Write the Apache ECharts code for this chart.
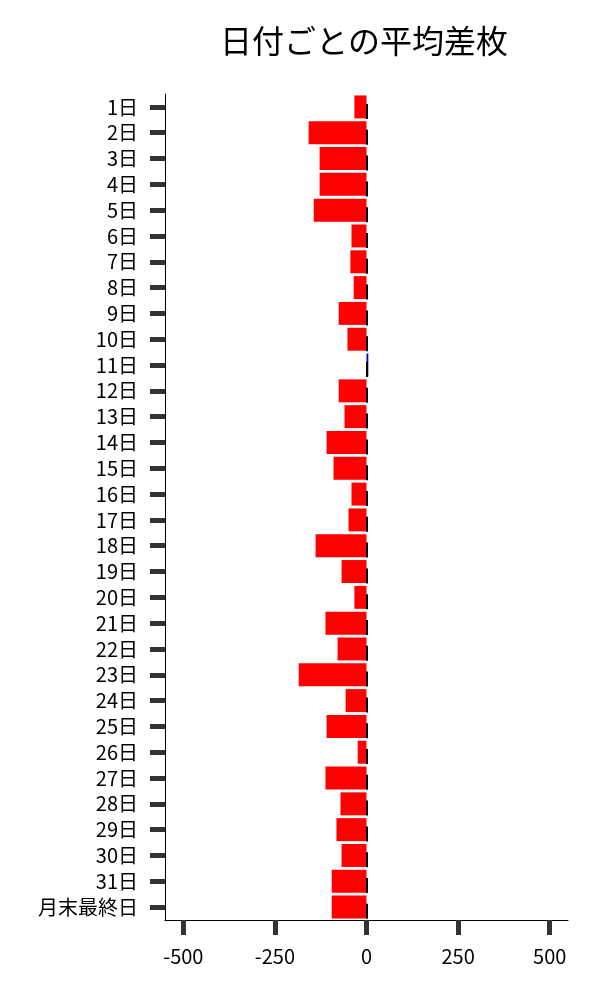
<!DOCTYPE html>
<html>
<head>
<meta charset="utf-8">
<script src="https://cdn.jsdelivr.net/npm/echarts@6/dist/echarts.min.js"></script>
<style>html,body{margin:0;padding:0;background:#fff}#c{width:600px;height:1000px}</style>
</head>
<body>
<div id="c"></div>
<script>
const categories = ['1日','2日','3日','4日','5日','6日','7日','8日','9日','10日','11日','12日','13日','14日','15日','16日','17日','18日','19日','20日','21日','22日','23日','24日','25日','26日','27日','28日','29日','30日','31日','月末最終日'];
const values = [-33,-158,-128,-128,-144,-41,-44,-35,-76,-52,5,-76,-60,-109,-90,-41,-49,-139,-68,-33,-112,-79,-185,-57,-109,-24,-112,-71,-82,-68,-95,-95];
const xTicks = [-500,-250,0,250,500];
const titleText = '日付ごとの平均差枚';

const font = '"Noto Sans CJK JP", "Noto Sans", sans-serif';
const chart = echarts.init(document.getElementById('c'), null, {renderer:'canvas'});
chart.setOption({
  animation: false,
  backgroundColor: '#fff',
  title: {
    text: titleText, left: 359, top: 20, textAlign: 'center',
    textStyle: {fontFamily: font, fontSize: 32, fontWeight: 'normal', color: '#000'}
  },
  grid: {left: 165, right: 32, top: 94, bottom: 80},
  xAxis: {
    type: 'value', min: -550, max: 550,
    axisLine: {show: true, onZero: false, lineStyle: {color: '#000', width: 1}},
    axisTick: {show: true, customValues: xTicks, length: 15, lineStyle: {color: '#333', width: 5}},
    axisLabel: {customValues: xTicks, margin: 26, fontFamily: font, fontSize: 20, color: '#000'},
    splitLine: {show: false}
  },
  yAxis: {
    type: 'category', data: categories, inverse: true,
    axisLine: {show: true, onZero: false, lineStyle: {color: '#000', width: 1}},
    axisTick: {show: true, interval: 0, alignWithLabel: true, length: 15, lineStyle: {color: '#333', width: 5}},
    axisLabel: {interval: 0, margin: 27, fontFamily: font, fontSize: 20, color: '#000'},
    splitLine: {show: false}
  },
  series: [{
    type: 'bar',
    data: values.map(v => ({value: v, itemStyle: {color: v >= 0 ? '#0000cc' : '#ff0000'}})),
    barCategoryGap: '11%',
    markLine: {
      silent: true, symbol: 'none', label: {show: false},
      lineStyle: {color: '#000', width: 2, type: [15, 10.8], dashOffset: 15.8},
      data: [{xAxis: 0}]
    }
  }]
});
</script>
</body>
</html>
